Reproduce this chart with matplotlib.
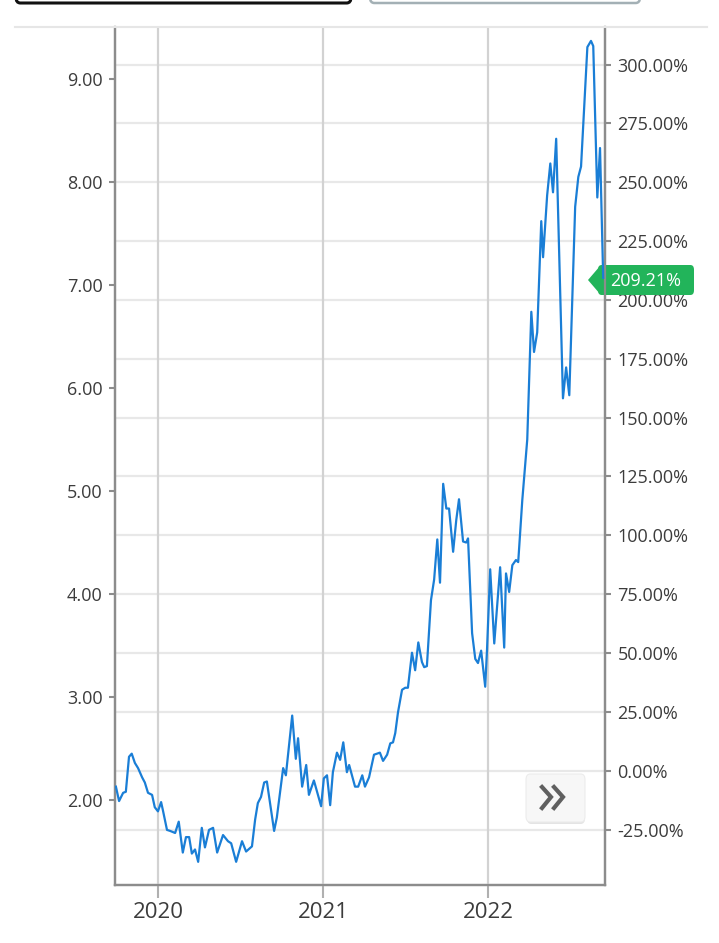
import matplotlib.pyplot as plt
from matplotlib.patches import FancyBboxPatch, Polygon
from matplotlib.lines import Line2D
from matplotlib.ticker import FuncFormatter
import pandas as pd

plt.rcParams['font.family'] = ['Open Sans', 'DejaVu Sans']

# weekly closing price
dates = [
    "2019-09-30", "2019-10-07", "2019-10-16", "2019-10-22", "2019-10-29", "2019-11-04",
    "2019-11-11", "2019-11-18", "2019-11-27", "2019-12-03", "2019-12-10", "2019-12-19",
    "2019-12-25", "2020-01-01", "2020-01-08", "2020-01-12", "2020-01-21", "2020-01-28",
    "2020-02-08", "2020-02-16", "2020-02-25", "2020-03-03", "2020-03-10", "2020-03-16",
    "2020-03-23", "2020-03-30", "2020-04-07", "2020-04-14", "2020-04-23", "2020-05-02",
    "2020-05-11", "2020-05-24", "2020-06-04", "2020-06-11", "2020-06-22", "2020-07-05",
    "2020-07-14", "2020-07-27", "2020-08-03", "2020-08-09", "2020-08-16", "2020-08-23",
    "2020-08-29", "2020-09-14", "2020-09-20", "2020-10-04", "2020-10-10", "2020-10-24",
    "2020-11-01", "2020-11-06", "2020-11-15", "2020-11-24", "2020-11-30", "2020-12-11",
    "2020-12-27", "2021-01-02", "2021-01-09", "2021-01-16", "2021-01-22", "2021-01-31",
    "2021-02-07", "2021-02-14", "2021-02-22", "2021-02-27", "2021-03-12", "2021-03-19",
    "2021-03-28", "2021-04-03", "2021-04-12", "2021-04-23", "2021-05-06", "2021-05-13",
    "2021-05-22", "2021-05-29", "2021-06-04", "2021-06-09", "2021-06-15", "2021-06-24",
    "2021-07-01", "2021-07-07", "2021-07-16", "2021-07-23", "2021-07-30", "2021-08-07",
    "2021-08-12", "2021-08-18", "2021-08-27", "2021-09-03", "2021-09-10", "2021-09-16",
    "2021-09-23", "2021-09-30", "2021-10-06", "2021-10-15", "2021-10-22", "2021-10-28",
    "2021-11-06", "2021-11-13", "2021-11-17", "2021-11-26", "2021-12-03", "2021-12-09",
    "2021-12-16", "2021-12-25", "2021-12-29", "2022-01-05", "2022-01-14", "2022-01-27",
    "2022-02-05", "2022-02-09", "2022-02-16", "2022-02-23", "2022-03-03", "2022-03-08",
    "2022-03-17", "2022-03-28", "2022-04-06", "2022-04-12", "2022-04-19", "2022-04-28",
    "2022-05-02", "2022-05-11", "2022-05-18", "2022-05-24", "2022-05-31", "2022-06-15",
    "2022-06-22", "2022-06-29", "2022-07-12", "2022-07-19", "2022-07-25", "2022-08-08",
    "2022-08-16", "2022-08-21", "2022-08-30", "2022-09-05", "2022-09-12",
]
prices = [
    2.13, 1.99, 2.07, 2.08, 2.42, 2.45,
    2.36, 2.31, 2.22, 2.17, 2.07, 2.05,
    1.93, 1.89, 1.98, 1.90, 1.71, 1.70,
    1.68, 1.79, 1.49, 1.64, 1.64, 1.48,
    1.52, 1.40, 1.73, 1.54, 1.71, 1.73,
    1.49, 1.66, 1.60, 1.58, 1.40, 1.60,
    1.50, 1.55, 1.81, 1.97, 2.03, 2.17,
    2.18, 1.70, 1.83, 2.31, 2.24, 2.82,
    2.40, 2.60, 2.13, 2.34, 2.05, 2.19,
    1.94, 2.21, 2.24, 1.95, 2.27, 2.46,
    2.39, 2.56, 2.27, 2.34, 2.13, 2.13,
    2.24, 2.13, 2.22, 2.44, 2.46, 2.38,
    2.44, 2.55, 2.56, 2.65, 2.85, 3.07,
    3.09, 3.09, 3.43, 3.26, 3.53, 3.34,
    3.29, 3.30, 3.94, 4.14, 4.53, 4.11,
    5.07, 4.83, 4.83, 4.41, 4.72, 4.92,
    4.51, 4.50, 4.54, 3.62, 3.37, 3.33,
    3.45, 3.10, 3.46, 4.24, 3.52, 4.26,
    3.48, 4.20, 4.02, 4.28, 4.33, 4.31,
    4.91, 5.50, 6.74, 6.35, 6.54, 7.62,
    7.27, 7.87, 8.18, 7.90, 8.42, 5.90,
    6.20, 5.93, 7.76, 8.05, 8.15, 9.31,
    9.37, 9.32, 7.85, 8.33, 7.07,
]
base_price = 2.285          # price that maps to 0.00 %
last_change = "209.21%"
year_ticks = ["2020-01-01", "2021-01-01", "2022-01-01"]
year_labels = ["2020", "2021", "2022"]
price_ticks = [2, 3, 4, 5, 6, 7, 8, 9]
pct_ticks = [-25, 0, 25, 50, 75, 100, 125, 150, 175, 200, 225, 250, 275, 300]

x = pd.to_datetime(dates)
W, H = 719, 943


def px(xp, yp):
    return xp / W, 1 - yp / H


fig = plt.figure(figsize=(W / 100, H / 100), dpi=100)
ax = fig.add_axes([115 / W, 1 - 885 / H, (605 - 115) / W, (885 - 27) / H])
ax2 = ax.twinx()
ax.set_zorder(ax2.get_zorder() + 1)
ax.patch.set_visible(False)

y_lo, y_hi = 1.175, 9.505
ax.set_ylim(y_lo, y_hi)
ax.set_xlim(pd.Timestamp("2019-09-28"), pd.Timestamp("2022-09-16"))
ax2.set_ylim((y_lo / base_price - 1) * 100, (y_hi / base_price - 1) * 100)

ax.plot(x, prices, color="#1a7ed6", lw=1.6, zorder=3)

label_color = "#3c3c3c"
spine_color = "#8c8c8c"

ax.set_yticks(price_ticks)
ax.yaxis.set_major_formatter(FuncFormatter(lambda v, p: f"{v:.2f}"))
ax.tick_params(axis="y", length=4, width=1.5, color=spine_color, pad=5,
               labelsize=13, labelcolor=label_color)

ax.set_xticks(pd.to_datetime(year_ticks))
ax.set_xticklabels(year_labels)
ax.tick_params(axis="x", length=9, width=1.5, color="#b0b0b0", pad=3,
               labelsize=16, labelcolor=label_color)
ax.grid(axis="x", color="#d2d2d2", lw=1.6)
ax.set_axisbelow(True)

ax2.set_yticks(pct_ticks)
ax2.yaxis.set_major_formatter(FuncFormatter(lambda v, p: f"{v:.2f}%"))
ax2.tick_params(axis="y", length=4, width=1.5, color=spine_color, pad=5,
                labelsize=13, labelcolor=label_color)
ax2.grid(axis="y", color="#e8e8e8", lw=1.6)

for a in (ax, ax2):
    a.spines["top"].set_visible(False)
    for s in ("left", "right", "bottom"):
        a.spines[s].set_color(spine_color)
        a.spines[s].set_linewidth(1.6)

# top border line of chart area
fig.add_artist(Line2D([15 / W, 707 / W], [1 - 27 / H] * 2, color="#e6e6e6", lw=1.5))

# partial buttons cut off at the very top
fig.add_artist(FancyBboxPatch(px(16, 3), 335 / W, 20 / H,
                              boxstyle="round,pad=0,rounding_size=0.006",
                              fc="white", ec="#111111", lw=2.2))
fig.add_artist(FancyBboxPatch(px(370, 3), 270 / W, 20 / H,
                              boxstyle="round,pad=0,rounding_size=0.006",
                              fc="white", ec="#a3b0b5", lw=1.8))

# green last-value tag
tag_green = "#22b45a"
fig.add_artist(FancyBboxPatch(px(598, 295), 96 / W, 30 / H,
                              boxstyle="round,pad=0,rounding_size=0.005",
                              fc=tag_green, ec="none"))
fig.add_artist(Polygon([px(588, 280), px(600, 266), px(600, 294)],
                       closed=True, fc=tag_green, ec="none"))
fig.text(*px(646, 281), last_change, color="white", fontsize=13,
         ha="center", va="center")

# scroll button
fig.add_artist(FancyBboxPatch(px(527, 824), 58 / W, 48 / H,
                              boxstyle="round,pad=0,rounding_size=0.006",
                              fc="#e4e4e4", ec="none"))
fig.add_artist(FancyBboxPatch(px(526, 822), 59 / W, 48 / H,
                              boxstyle="round,pad=0,rounding_size=0.006",
                              fc="#f7f7f7", ec="#ececec", lw=0.8))
for dx in (0, 12):
    xs = [(542 + dx) / W, (551 + dx) / W, (542 + dx) / W]
    ys = [1 - 787 / H, 1 - 797 / H, 1 - 808 / H]
    fig.add_artist(Line2D(xs, ys, color="#606060", lw=3, solid_joinstyle="miter"))

fig.savefig("out.png", dpi=100)
